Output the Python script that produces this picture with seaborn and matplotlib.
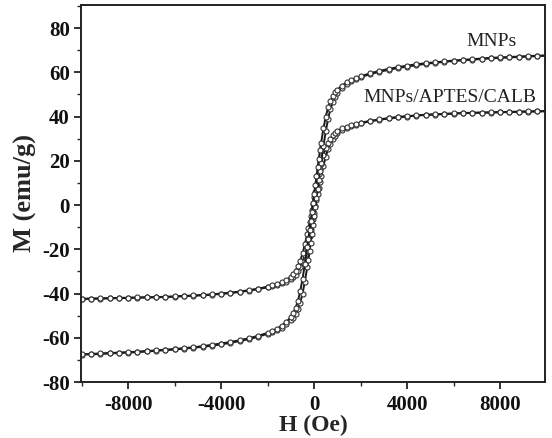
import matplotlib
matplotlib.use("Agg")
import matplotlib.pyplot as plt
import pandas as pd
import seaborn as sns
from matplotlib.ticker import MultipleLocator

# Applied field H (Oe)
H = [-10000, -9600, -9200, -8800, -8400, -8000, -7600, -7200, -6800, -6400, -6000,
     -5600, -5200, -4800, -4400, -4000, -3600, -3200, -2800, -2400, -2000,
     -1800, -1600, -1400, -1200, -1000, -900, -800, -700, -600, -500, -400, -300,
     -250, -200, -150, -100, -50, 0, 50, 100, 150, 200, 250,
     300, 400, 500, 600, 700, 800, 900, 1000, 1200, 1400, 1600, 1800,
     2000, 2400, 2800, 3200, 3600, 4000, 4400, 4800, 5200, 5600, 6000, 6400,
     6800, 7200, 7600, 8000, 8400, 8800, 9200, 9600, 10000]

# MNPs: descending (upper) and ascending (lower) branches, M (emu/g)
mnps_desc = [-67.5, -67.3, -67.1, -66.9, -66.7, -66.5, -66.3, -66.0, -65.7, -65.4, -65.1,
             -64.7, -64.3, -63.8, -63.2, -62.6, -61.9, -61.1, -60.2, -59.1, -57.8,
             -56.9, -55.9, -54.6, -52.9, -50.6, -48.8, -46.5, -43.4, -39.0, -33.4, -26.8, -19.2,
             -15.2, -11.2, -7.2, -3.2, 0.8, 5.0, 9.0, 13.0, 17.0, 21.0, 24.8,
             28.2, 34.6, 40.0, 44.1, 47.0, 49.2, 50.9, 52.1, 54.0, 55.4, 56.5, 57.4,
             58.2, 59.5, 60.6, 61.5, 62.3, 63.0, 63.6, 64.1, 64.5, 64.9, 65.3, 65.6,
             65.9, 66.2, 66.5, 66.7, 66.9, 67.1, 67.3, 67.5, 67.6]
mnps_asc = [-67.6, -67.5, -67.3, -67.1, -66.9, -66.7, -66.5, -66.2, -65.9, -65.6, -65.3,
            -64.9, -64.5, -64.1, -63.6, -63.0, -62.3, -61.5, -60.6, -59.5, -58.2,
            -57.4, -56.5, -55.4, -54.0, -52.1, -50.9, -49.2, -47.0, -44.1, -40.0, -34.6, -28.2,
            -24.8, -21.0, -17.0, -13.0, -9.0, -5.0, -0.8, 3.2, 7.2, 11.2, 15.2,
            19.2, 26.8, 33.4, 39.0, 43.4, 46.5, 48.8, 50.6, 52.9, 54.6, 55.9, 56.9,
            57.8, 59.1, 60.2, 61.1, 61.9, 62.6, 63.2, 63.8, 64.3, 64.7, 65.1, 65.4,
            65.7, 66.0, 66.3, 66.5, 66.7, 66.9, 67.1, 67.3, 67.5]

# MNPs/APTES/CALB branches, M (emu/g)
calb_desc = [-42.4, -42.3, -42.2, -42.1, -42.0, -41.9, -41.8, -41.7, -41.6, -41.5, -41.3,
             -41.1, -40.9, -40.7, -40.4, -40.0, -39.6, -39.1, -38.5, -37.8, -36.9,
             -36.3, -35.7, -34.9, -33.9, -32.4, -31.2, -29.7, -27.7, -25.2, -21.9, -17.8, -13.1,
             -10.5, -7.8, -5.0, -2.2, 0.6, 3.4, 6.1, 8.8, 11.5, 14.1, 16.4,
             18.7, 22.6, 25.7, 28.1, 30.0, 31.5, 32.6, 33.4, 34.6, 35.4, 36.1, 36.7,
             37.2, 38.0, 38.7, 39.3, 39.8, 40.2, 40.5, 40.8, 41.0, 41.2, 41.4, 41.6,
             41.7, 41.8, 41.9, 42.0, 42.1, 42.2, 42.3, 42.4, 42.4]
calb_asc = [-42.4, -42.4, -42.3, -42.2, -42.1, -42.0, -41.9, -41.8, -41.7, -41.6, -41.4,
            -41.2, -41.0, -40.8, -40.5, -40.2, -39.8, -39.3, -38.7, -38.0, -37.2,
            -36.7, -36.1, -35.4, -34.6, -33.4, -32.6, -31.5, -30.0, -28.1, -25.7, -22.6, -18.7,
            -16.4, -14.1, -11.5, -8.8, -6.1, -3.4, -0.6, 2.2, 5.0, 7.8, 10.5,
            13.1, 17.8, 21.9, 25.2, 27.7, 29.7, 31.2, 32.4, 33.9, 34.9, 35.7, 36.3,
            36.9, 37.8, 38.5, 39.1, 39.6, 40.0, 40.4, 40.7, 40.9, 41.1, 41.3, 41.5,
            41.6, 41.7, 41.8, 41.9, 42.0, 42.1, 42.2, 42.3, 42.4]

labels = ["MNPs", "MNPs/APTES/CALB"]
xticks = [-8000, -4000, 0, 4000, 8000]
yticks = [-80, -60, -40, -20, 0, 20, 40, 60, 80]

frames = []
for name, br, vals in [("MNPs", "desc", mnps_desc), ("MNPs", "asc", mnps_asc),
                       ("CALB", "desc", calb_desc), ("CALB", "asc", calb_asc)]:
    frames.append(pd.DataFrame({"H": H, "M": vals, "curve": name + "_" + br}))
df = pd.concat(frames, ignore_index=True)

sns.set_style("ticks")
plt.rcParams["font.family"] = ["Liberation Serif", "DejaVu Serif"]
plt.rcParams["axes.unicode_minus"] = False

fig = plt.figure(figsize=(5.52, 4.38), dpi=100)
ax = fig.add_axes([81 / 552, 1 - 382 / 438, 464 / 552, 377 / 438])

sns.lineplot(data=df, x="H", y="M", units="curve", estimator=None, sort=False,
             color="#1a1a1a", linewidth=1.4, marker="o", markersize=3.6,
             markerfacecolor="white", markeredgecolor="#333333", markeredgewidth=0.8,
             ax=ax)

ax.set_xlim(-10030, 9930)
ax.set_ylim(-80, 90.4)
ax.set_xticks(xticks)
ax.set_yticks(yticks)
ax.xaxis.set_minor_locator(MultipleLocator(2000))
ax.yaxis.set_minor_locator(MultipleLocator(10))
ax.tick_params(axis="both", which="major", direction="out", length=5, width=1.2,
               labelsize=15, colors="#111111", top=False, right=False)
ax.tick_params(axis="both", which="minor", direction="out", length=3, width=1.0,
               top=False, right=False)
ax.tick_params(axis="x", which="major", pad=4)
ax.tick_params(axis="y", which="major", pad=3)
for lab in ax.get_xticklabels() + ax.get_yticklabels():
    lab.set_fontweight("bold")
for sp in ax.spines.values():
    sp.set_visible(True)
    sp.set_linewidth(1.4)
    sp.set_color("#222222")

ax.set_xlabel("H (Oe)", fontsize=17, fontweight="bold", labelpad=0)
ax.set_ylabel("M (emu/g)", fontsize=19, fontweight="bold", labelpad=4)

ax.text(7643, 73.7, labels[0], fontsize=14, ha="center", va="center", color="#222222")
ax.text(5836, 48.8, labels[1], fontsize=14, ha="center", va="center", color="#222222")

fig.savefig("out.png", dpi=100)
